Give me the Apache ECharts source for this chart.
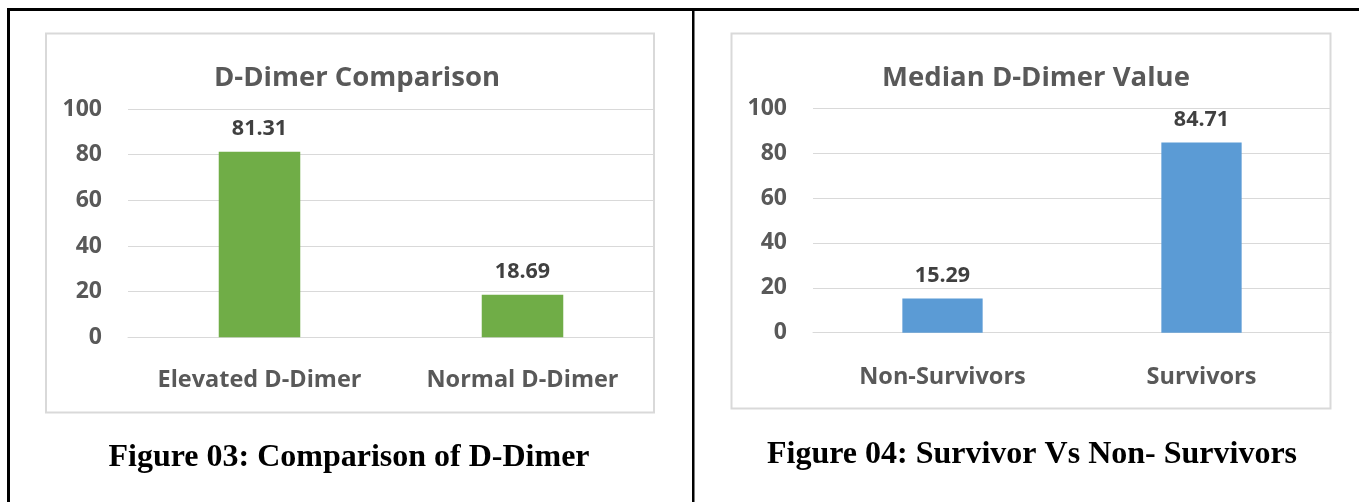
<!DOCTYPE html>
<html>
<head>
<meta charset="utf-8">
<script src="https://cdn.jsdelivr.net/npm/echarts@6/dist/echarts.min.js"></script>
<style>
html,body{margin:0;padding:0;background:#fff;}
#c{width:1359px;height:502px;}
</style>
</head>
<body>
<div id="c"></div>
<script>
// ---- data ----
const categories1 = ['Elevated D-Dimer', 'Normal D-Dimer'];
const values1 = [81.31, 18.69];
const categories2 = ['Non-Survivors', 'Survivors'];
const values2 = [15.29, 84.71];
const yTicks = [0, 20, 40, 60, 80, 100];
const title1 = 'D-Dimer Comparison';
const title2 = 'Median D-Dimer Value';
const caption1 = 'Figure 03: Comparison of D-Dimer';
const caption2 = 'Figure 04: Survivor Vs Non- Survivors';

const FONT = '"Open Sans", sans-serif';
const GRID_COLOR = '#d9d9d9';

function yAxis(gridIndex) {
  return {
    type: 'value', gridIndex: gridIndex,
    min: yTicks[0], max: yTicks[yTicks.length - 1], interval: 20,
    axisLine: {show: false}, axisTick: {show: false},
    splitLine: {lineStyle: {color: GRID_COLOR, width: 1}},
    axisLabel: {color: '#595959', fontFamily: FONT, fontWeight: 'bold', fontSize: 23, margin: 26}
  };
}
function xAxis(gridIndex, cats, margin) {
  return {
    type: 'category', gridIndex: gridIndex, data: cats,
    axisLine: {lineStyle: {color: GRID_COLOR, width: 1}},
    axisTick: {show: false},
    axisLabel: {interval: 0, hideOverlap: false, color: '#595959', fontFamily: FONT,
      fontWeight: 'bold', fontSize: 23.5, margin: margin}
  };
}
function series(idx, vals, color) {
  return {
    type: 'bar', xAxisIndex: idx, yAxisIndex: idx, data: vals,
    barWidth: '31%', itemStyle: {color: color},
    label: {show: true, position: 'top', distance: 12, color: '#404040',
      fontFamily: FONT, fontWeight: 'bold', fontSize: 21.5,
      formatter: p => p.value.toFixed(2)}
  };
}

const chart = echarts.init(document.getElementById('c'), null, {renderer: 'canvas'});
chart.setOption({
  animation: false,
  backgroundColor: '#fff',
  title: [
    {text: title1, left: 352, top: 73, textAlign: 'center', textVerticalAlign: 'middle',
     textStyle: {color: '#595959', fontFamily: FONT, fontWeight: 'bold', fontSize: 27.5}},
    {text: title2, left: 1031, top: 73, textAlign: 'center', textVerticalAlign: 'middle',
     textStyle: {color: '#595959', fontFamily: FONT, fontWeight: 'bold', fontSize: 27.5}}
  ],
  grid: [
    {left: 128, right: 1359 - 654, top: 109, bottom: 502 - 337.3, containLabel: false},
    {left: 813, right: 1359 - 1331, top: 108.3, bottom: 502 - 332.7, containLabel: false}
  ],
  xAxis: [xAxis(0, categories1, 31), xAxis(1, categories2, 33)],
  yAxis: [yAxis(0), yAxis(1)],
  series: [series(0, values1, '#70ad47'), series(1, values2, '#5b9bd5')],
  graphic: [
    // outer black frame
    {type: 'rect', shape: {x: 7, y: 8, width: 1352, height: 3}, style: {fill: '#000'}, z: 100},
    {type: 'rect', shape: {x: 7, y: 8, width: 3, height: 494}, style: {fill: '#000'}, z: 100},
    {type: 'rect', shape: {x: 692, y: 8, width: 2.5, height: 494}, style: {fill: '#000'}, z: 100},
    // chart boxes
    {type: 'rect', shape: {x: 46, y: 33.5, width: 608, height: 379}, style: {fill: 'none', stroke: GRID_COLOR, lineWidth: 2}, z: 100},
    {type: 'rect', shape: {x: 731.5, y: 33.5, width: 599, height: 375}, style: {fill: 'none', stroke: GRID_COLOR, lineWidth: 2}, z: 100},
    // captions
    {type: 'text', x: 349, y: 458, style: {text: caption1, fill: '#000', font: 'bold 32px "Liberation Serif", serif', align: 'center', verticalAlign: 'middle'}},
    {type: 'text', x: 1032, y: 455, style: {text: caption2, fill: '#000', font: 'bold 32px "Liberation Serif", serif', align: 'center', verticalAlign: 'middle'}}
  ]
});
</script>
</body>
</html>
